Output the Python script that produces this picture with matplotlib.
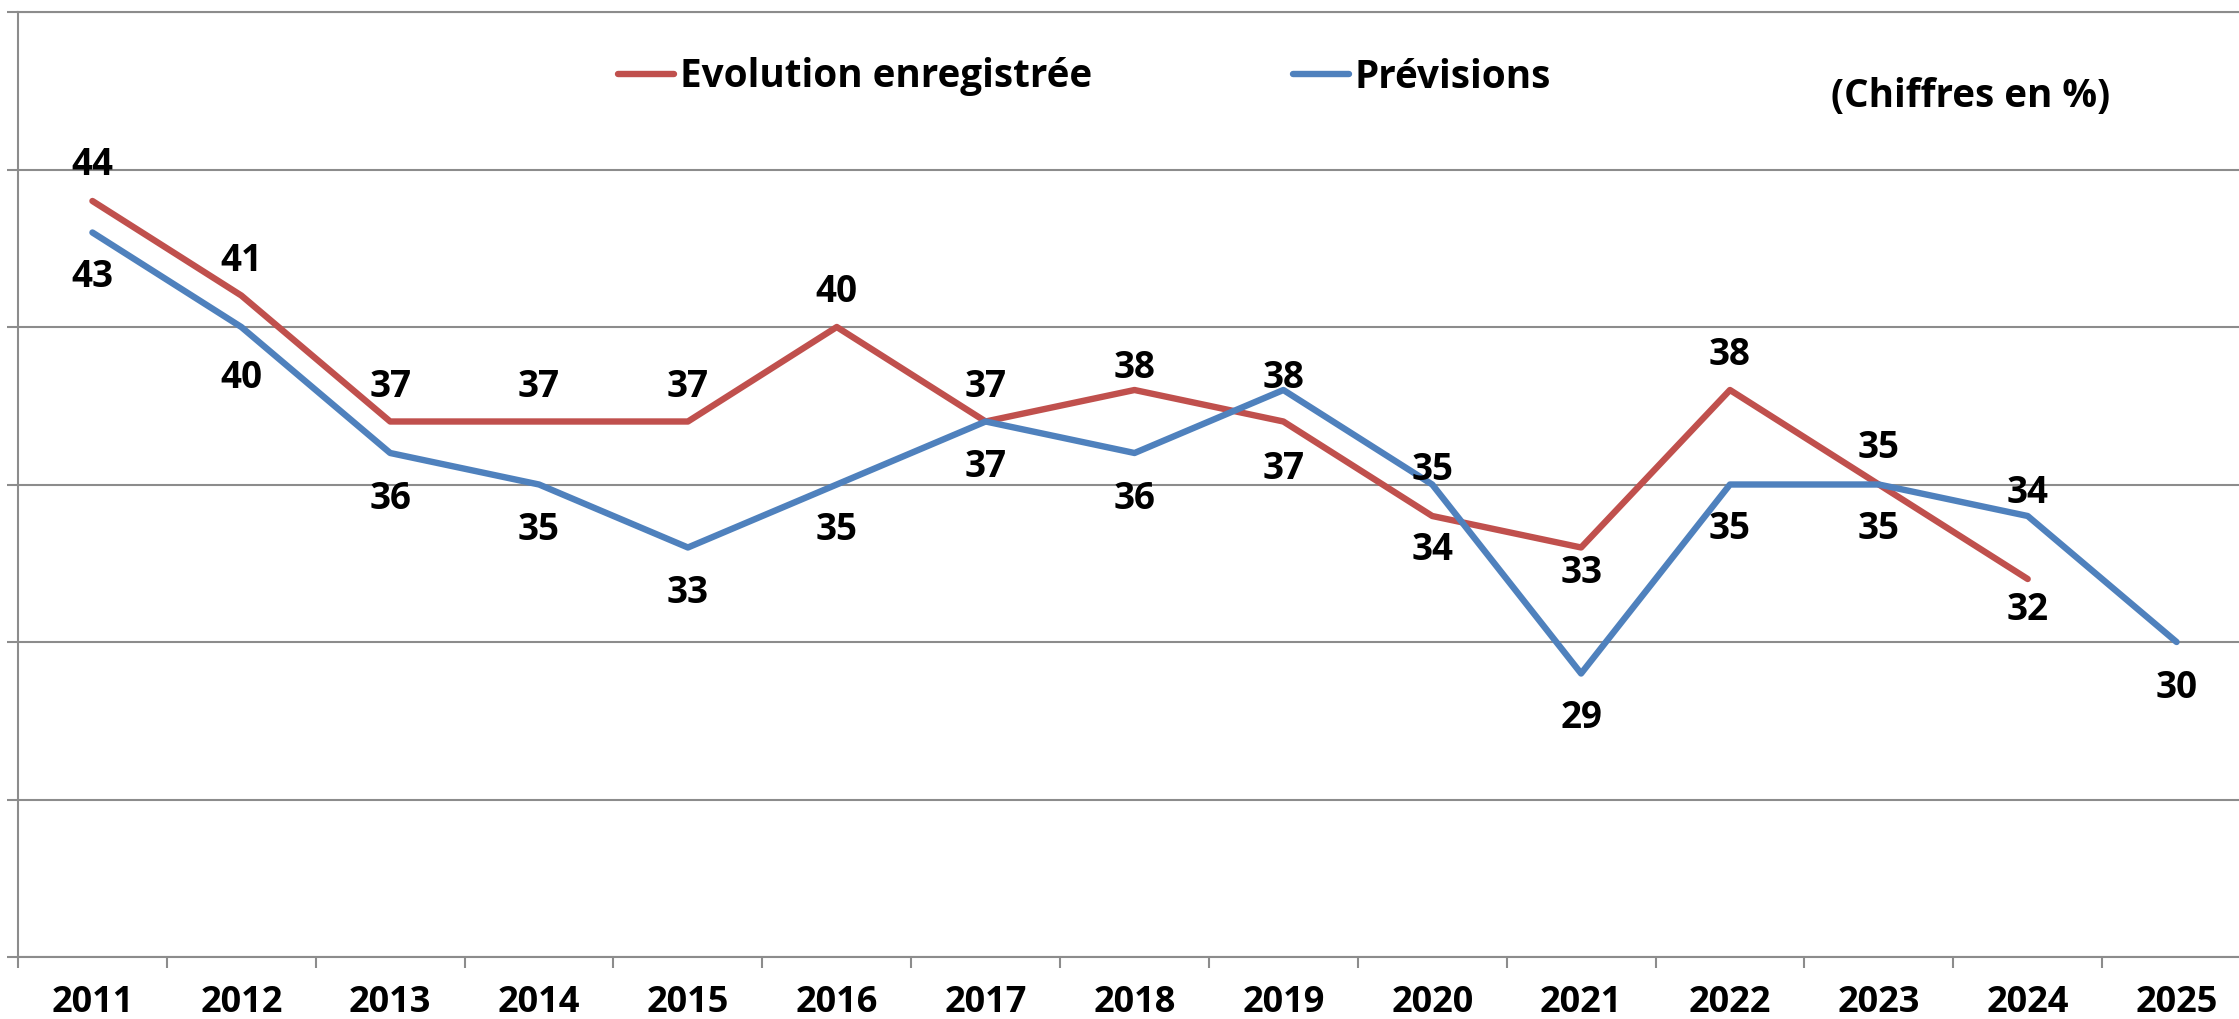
import matplotlib
matplotlib.use("Agg")
import matplotlib.pyplot as plt
import numpy as np

plt.rcParams['font.family'] = ['Open Sans', 'DejaVu Sans']
plt.rcParams['font.weight'] = 'bold'

years = ['2011', '2012', '2013', '2014', '2015', '2016', '2017', '2018',
         '2019', '2020', '2021', '2022', '2023', '2024', '2025']
recorded = [44, 41, 37, 37, 37, 40, 37, 38, 37, 34, 33, 38, 35, 32]
forecast = [43, 40, 36, 35, 33, 35, 37, 36, 38, 35, 29, 35, 35, 34, 30]

# vertical shift of each value label, in points (up is positive)
rec_dy = [29, 28, 28, 28, 28, 28, 28, 18.5, -31, -21.6, -15.4, 28, 29, -19.5]
fc_dy = [-29, -34, -30, -30, -30, -30, -30, -30, 11.3, 13.4, -29, -29, -29, 19.5, -30]
shift = -3  # glyph centring correction

red = '#C0504D'
blue = '#4F81BD'
grey = '#8C8C8C'

W, H = 2239, 1019
fig = plt.figure(figsize=(W / 100, H / 100), dpi=100)
ax = fig.add_axes([18 / W, (H - 957) / H, (2251 - 18) / W, (957 - 12) / H])

x_rec = np.arange(len(recorded))
x_fc = np.arange(len(forecast))
ax.plot(x_rec, recorded, color=red, lw=4.6, label='Evolution enregistrée',
        solid_capstyle='round', zorder=3)
ax.plot(x_fc, forecast, color=blue, lw=4.6, label='Prévisions',
        solid_capstyle='round', zorder=3)

for xi, v, dy in zip(x_rec, recorded, rec_dy):
    ax.annotate(str(v), (xi, v), xytext=(0, dy + shift), textcoords='offset points',
                ha='center', va='center', fontsize=26.5, fontweight='bold')
for xi, v, dy in zip(x_fc, forecast, fc_dy):
    ax.annotate(str(v), (xi, v), xytext=(0, dy + shift), textcoords='offset points',
                ha='center', va='center', fontsize=26.5, fontweight='bold')

ax.set_xlim(-0.5, len(years) - 0.5)
ax.set_ylim(20, 50)
ax.set_yticks(np.arange(20, 51, 5))
ax.set_yticklabels([])
ax.yaxis.grid(True, color=grey, lw=1.5)
ax.set_axisbelow(True)

ax.set_xticks(np.arange(len(years) + 1) - 0.5)
ax.set_xticklabels([])
ax.set_xticks(np.arange(len(years)), minor=True)
ax.set_xticklabels(years, minor=True, fontsize=26, fontweight='bold')
ax.tick_params(axis='x', which='major', length=8, width=1.5, color=grey, direction='out')
ax.tick_params(axis='x', which='minor', length=0, pad=20)
ax.tick_params(axis='y', length=8, width=1.5, color=grey, direction='out')

for s in ['left', 'bottom', 'top']:
    ax.spines[s].set_color(grey)
    ax.spines[s].set_linewidth(1.5)
ax.spines['right'].set_visible(False)

fig.legend(loc='center left', bbox_to_anchor=(618 / W, 1 - 77 / H), ncol=2,
           frameon=False, handlelength=1.45, handletextpad=0.15,
           columnspacing=5.2, borderpad=0, borderaxespad=0,
           prop={'weight': 'bold', 'size': 27.8})

fig.text(1971 / W, 1 - 96 / H, '(Chiffres en %)', ha='center', va='center',
         fontsize=27.8, fontweight='bold')

fig.savefig('out.png', dpi=100)
